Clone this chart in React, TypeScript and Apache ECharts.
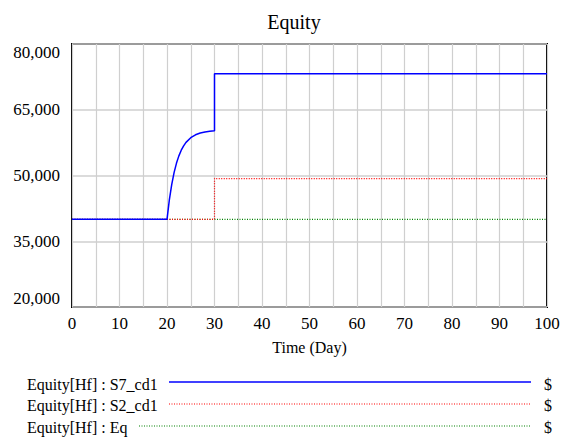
import React, { useEffect, useRef } from "react";
import * as echarts from "echarts";

const FONT = "'Liberation Serif', 'Times New Roman', serif";

// Time (Day) and values for each run
const s7Time = [0, 20, 20.5, 21, 21.5, 22, 22.5, 23, 23.5, 24, 25, 26, 27, 28, 29, 30, 30, 100];
const s7Values = [40000, 40000, 44490, 47980, 50720, 52830, 54480, 55770, 56770, 57560, 58630, 59290, 59690, 59930, 60080, 60200, 73200, 73200];

const s2Time = [0, 30, 30, 100];
const s2Values = [40000, 40000, 49300, 49300];

const eqTime = [0, 100];
const eqValues = [40000, 40000];

const seriesNames = ["Equity[Hf] : S7_cd1", "Equity[Hf] : S2_cd1", "Equity[Hf] : Eq"];
const yTicks = [20000, 35000, 50000, 65000, 80000];

const pairs = (xs: number[], ys: number[]) => xs.map((x, i) => [x, ys[i]]);

export default function App() {
  const ref = useRef<HTMLDivElement>(null);
  useEffect(() => {
    if (!ref.current) return;
    const chart = echarts.init(ref.current, null, { renderer: "svg" });
    const gridColor = "#cfcfcf";
    const legendRows = [
      { ty: 376, ly: 382, x1: 169, color: "#0000ff", dash: "solid" as any, width: 1.6 },
      { ty: 397, ly: 404, x1: 169, color: "#ff0000", dash: [1, 1.5], width: 1.2 },
      { ty: 419, ly: 426, x1: 139, color: "#008000", dash: [1, 1.5], width: 1.2 },
    ];
    const graphics: any[] = [];
    legendRows.forEach((r, i) => {
      graphics.push({
        type: "text",
        left: 27,
        top: r.ty,
        style: { text: seriesNames[i], fontFamily: FONT, fontSize: 16, fill: "#000" },
      });
      graphics.push({
        type: "line",
        shape: { x1: r.x1, y1: r.ly, x2: 531, y2: r.ly },
        style: { stroke: r.color, lineWidth: r.width, lineDash: r.dash },
      });
      graphics.push({
        type: "text",
        left: 544,
        top: r.ty,
        style: { text: "$", fontFamily: FONT, fontSize: 16, fill: "#000" },
      });
    });
    chart.setOption({
      animation: false,
      textStyle: { fontFamily: FONT },
      title: {
        text: "Equity",
        left: 289,
        textAlign: "center",
        top: 7,
        textStyle: { fontFamily: FONT, fontSize: 20, fontWeight: "normal", color: "#000" },
      },
      grid: {
        left: 72,
        right: 18,
        top: 44,
        bottom: 136,
        show: true,
        borderColor: "#000",
        borderWidth: 2,
        backgroundColor: "transparent",
      },
      xAxis: {
        type: "value",
        min: 0,
        max: 100,
        interval: 10,
        name: "Time (Day)",
        nameLocation: "middle",
        nameGap: 32,
        nameTextStyle: { fontFamily: FONT, fontSize: 16, color: "#000" },
        axisLine: { show: false },
        axisTick: { show: false },
        axisLabel: { fontFamily: FONT, fontSize: 17, color: "#000", margin: 8 },
        splitLine: { show: true, lineStyle: { color: gridColor, width: 1.2 } },
        minorTick: { show: false, splitNumber: 2 },
        minorSplitLine: { show: true, lineStyle: { color: gridColor, width: 1.2 } },
      },
      yAxis: {
        type: "value",
        min: yTicks[0],
        max: yTicks[yTicks.length - 1],
        interval: yTicks[1] - yTicks[0],
        axisLine: { show: false },
        axisTick: { show: false },
        axisLabel: {
          fontFamily: FONT,
          fontSize: 17,
          color: "#000",
          margin: 12,
          formatter: (v: number) => v.toLocaleString("en-US"),
          verticalAlignMaxLabel: "top",
          verticalAlignMinLabel: "bottom",
        },
        splitLine: { show: true, lineStyle: { color: gridColor, width: 1.5 } },
      },
      graphic: graphics,
      series: [
        {
          name: seriesNames[2],
          type: "line",
          data: pairs(eqTime, eqValues),
          showSymbol: false,
          lineStyle: { color: "#008000", width: 1.2, type: [1, 1.5] },
          z: 2,
        },
        {
          name: seriesNames[1],
          type: "line",
          data: pairs(s2Time, s2Values),
          showSymbol: false,
          lineStyle: { color: "#ff0000", width: 1.2, type: [1, 1.5] },
          z: 3,
        },
        {
          name: seriesNames[0],
          type: "line",
          data: pairs(s7Time, s7Values),
          showSymbol: false,
          lineStyle: { color: "#0000ff", width: 1.5 },
          z: 4,
        },
      ],
    });
    return () => chart.dispose();
  }, []);
  return <div ref={ref} style={{ position: "absolute", left: 0, top: 0, width: 565, height: 443 }} />;
}
